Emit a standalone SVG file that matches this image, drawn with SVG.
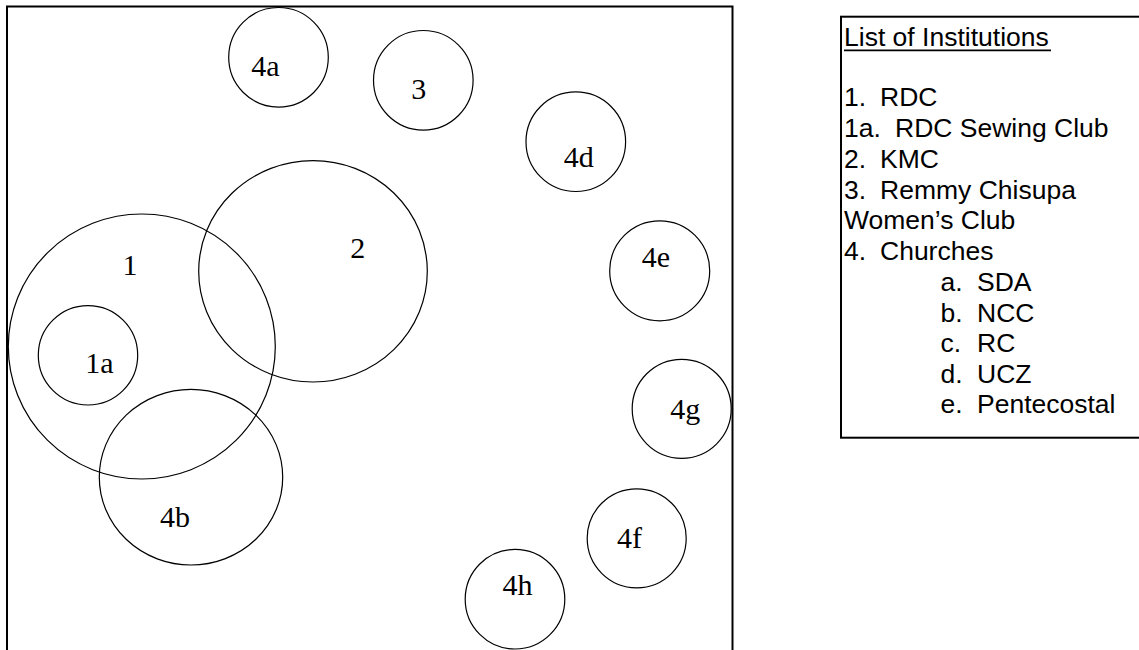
<svg xmlns="http://www.w3.org/2000/svg" width="1139" height="650" viewBox="0 0 1139 650">
<style>
.frame{fill:none;stroke:#000;stroke-width:2}
.c{fill:none;stroke:#000;stroke-width:1.2}
.lbl{font-family:"Liberation Serif","Times New Roman",serif;font-size:30px;fill:#000;text-anchor:middle}
.lst{font-family:"Liberation Sans",Arial,sans-serif;font-size:26.5px;fill:#000}
</style>
<rect width="1139" height="650" fill="#fff"/>
<rect class="frame" x="7" y="6.5" width="725.5" height="700"/>
<g id="node-1"><ellipse class="c" cx="141.8" cy="346.5" rx="133.5" ry="132.5"/><text class="lbl" x="130" y="275">1</text></g>
<g id="node-1a"><circle class="c" cx="88" cy="355.3" r="49.7"/><text class="lbl" x="99.3" y="373.3">1a</text></g>
<g id="node-2"><ellipse class="c" cx="313" cy="271.3" rx="114.3" ry="110.7"/><text class="lbl" x="357.8" y="258.3">2</text></g>
<g id="node-3"><circle class="c" cx="423.3" cy="80.3" r="49.8"/><text class="lbl" x="418.7" y="99">3</text></g>
<g id="node-4a"><circle class="c" cx="278.5" cy="57.3" r="49.8"/><text class="lbl" x="265.3" y="76">4a</text></g>
<g id="node-4b"><ellipse class="c" cx="191" cy="477.2" rx="91.7" ry="87.8"/><text class="lbl" x="175" y="526.7">4b</text></g>
<g id="node-4d"><circle class="c" cx="575.8" cy="141.7" r="49.8"/><text class="lbl" x="578.8" y="166.7">4d</text></g>
<g id="node-4e"><circle class="c" cx="659.7" cy="270.8" r="50"/><text class="lbl" x="655.8" y="266.7">4e</text></g>
<g id="node-4g"><circle class="c" cx="681.7" cy="408.8" r="49.5"/><text class="lbl" x="685.3" y="419.3">4g</text></g>
<g id="node-4f"><circle class="c" cx="636.7" cy="538.3" r="49.5"/><text class="lbl" x="629.5" y="548.3">4f</text></g>
<g id="node-4h"><circle class="c" cx="515" cy="599.2" r="49.8"/><text class="lbl" x="517.5" y="595">4h</text></g>
<g id="connectors"></g>
<g id="legend">
<rect class="frame" x="841" y="16.7" width="400" height="421"/>
<text class="lst" x="844" y="45.7">List of Institutions</text>
<line x1="844" y1="50.3" x2="1051" y2="50.3" stroke="#000" stroke-width="1.7"/>
<text class="lst" y="106"><tspan x="844">1.</tspan><tspan x="880">RDC</tspan></text>
<text class="lst" y="136.7"><tspan x="844">1a.</tspan><tspan x="895">RDC Sewing Club</tspan></text>
<text class="lst" y="167.7"><tspan x="844">2.</tspan><tspan x="880">KMC</tspan></text>
<text class="lst" y="199"><tspan x="844">3.</tspan><tspan x="880">Remmy Chisupa</tspan></text>
<text class="lst" x="844" y="229.3">Women’s Club</text>
<text class="lst" y="260"><tspan x="844">4.</tspan><tspan x="880">Churches</tspan></text>
<text class="lst" y="291"><tspan x="940.5">a.</tspan><tspan x="977">SDA</tspan></text>
<text class="lst" y="321.7"><tspan x="940.5">b.</tspan><tspan x="977">NCC</tspan></text>
<text class="lst" y="352.3"><tspan x="940.5">c.</tspan><tspan x="977">RC</tspan></text>
<text class="lst" y="383.3"><tspan x="940.5">d.</tspan><tspan x="977">UCZ</tspan></text>
<text class="lst" y="413.3"><tspan x="940.5">e.</tspan><tspan x="977">Pentecostal</tspan></text>
</g>
</svg>
